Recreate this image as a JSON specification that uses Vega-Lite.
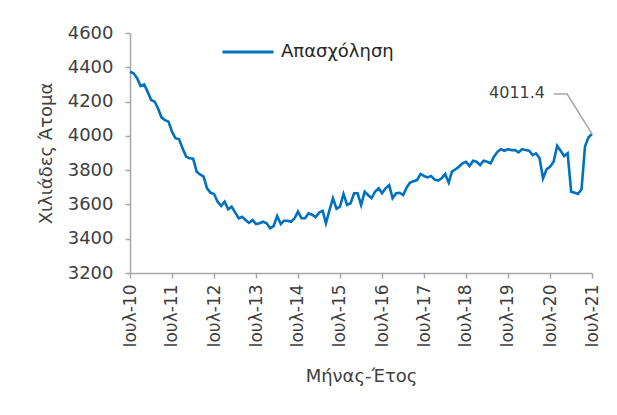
{
  "$schema": "https://vega.github.io/schema/vega-lite/v6.json",
  "width": 462,
  "height": 240,
  "autosize": "none",
  "padding": {"left": 130, "top": 33, "right": 25, "bottom": 142},
  "background": "white",
  "config": {
    "view": {"stroke": null},
    "font": "DejaVu Sans",
    "axis": {
      "grid": false,
      "domainColor": "#a6a6a6",
      "domainWidth": 1.5,
      "tickColor": "#a6a6a6",
      "tickWidth": 1.5,
      "tickSize": 5,
      "labelFont": "DejaVu Sans",
      "labelColor": "#404040",
      "titleFont": "DejaVu Sans",
      "titleColor": "#404040",
      "titleFontWeight": "normal"
    }
  },
  "datasets": {
    "emp": [
      {"date": "2010-07-01", "emp": 4374}, {"date": "2010-08-01", "emp": 4365}, {"date": "2010-09-01", "emp": 4336},
      {"date": "2010-10-01", "emp": 4291}, {"date": "2010-11-01", "emp": 4300}, {"date": "2010-12-01", "emp": 4258},
      {"date": "2011-01-01", "emp": 4209}, {"date": "2011-02-01", "emp": 4199}, {"date": "2011-03-01", "emp": 4161},
      {"date": "2011-04-01", "emp": 4108}, {"date": "2011-05-01", "emp": 4092}, {"date": "2011-06-01", "emp": 4083},
      {"date": "2011-07-01", "emp": 4024}, {"date": "2011-08-01", "emp": 3986}, {"date": "2011-09-01", "emp": 3980},
      {"date": "2011-10-01", "emp": 3927}, {"date": "2011-11-01", "emp": 3879}, {"date": "2011-12-01", "emp": 3869},
      {"date": "2012-01-01", "emp": 3867}, {"date": "2012-02-01", "emp": 3791}, {"date": "2012-03-01", "emp": 3775},
      {"date": "2012-04-01", "emp": 3762}, {"date": "2012-05-01", "emp": 3694}, {"date": "2012-06-01", "emp": 3668},
      {"date": "2012-07-01", "emp": 3661}, {"date": "2012-08-01", "emp": 3616}, {"date": "2012-09-01", "emp": 3591},
      {"date": "2012-10-01", "emp": 3616}, {"date": "2012-11-01", "emp": 3572}, {"date": "2012-12-01", "emp": 3587},
      {"date": "2013-01-01", "emp": 3552}, {"date": "2013-02-01", "emp": 3519}, {"date": "2013-03-01", "emp": 3528},
      {"date": "2013-04-01", "emp": 3509}, {"date": "2013-05-01", "emp": 3493}, {"date": "2013-06-01", "emp": 3509},
      {"date": "2013-07-01", "emp": 3486}, {"date": "2013-08-01", "emp": 3490}, {"date": "2013-09-01", "emp": 3499},
      {"date": "2013-10-01", "emp": 3490}, {"date": "2013-11-01", "emp": 3461}, {"date": "2013-12-01", "emp": 3474},
      {"date": "2014-01-01", "emp": 3532}, {"date": "2014-02-01", "emp": 3486}, {"date": "2014-03-01", "emp": 3505},
      {"date": "2014-04-01", "emp": 3505}, {"date": "2014-05-01", "emp": 3499}, {"date": "2014-06-01", "emp": 3519},
      {"date": "2014-07-01", "emp": 3558}, {"date": "2014-08-01", "emp": 3519}, {"date": "2014-09-01", "emp": 3519},
      {"date": "2014-10-01", "emp": 3548}, {"date": "2014-11-01", "emp": 3540}, {"date": "2014-12-01", "emp": 3525},
      {"date": "2015-01-01", "emp": 3552}, {"date": "2015-02-01", "emp": 3562}, {"date": "2015-03-01", "emp": 3490},
      {"date": "2015-04-01", "emp": 3567}, {"date": "2015-05-01", "emp": 3636}, {"date": "2015-06-01", "emp": 3575},
      {"date": "2015-07-01", "emp": 3587}, {"date": "2015-08-01", "emp": 3661}, {"date": "2015-09-01", "emp": 3597},
      {"date": "2015-10-01", "emp": 3607}, {"date": "2015-11-01", "emp": 3665}, {"date": "2015-12-01", "emp": 3665},
      {"date": "2016-01-01", "emp": 3597}, {"date": "2016-02-01", "emp": 3674}, {"date": "2016-03-01", "emp": 3655},
      {"date": "2016-04-01", "emp": 3636}, {"date": "2016-05-01", "emp": 3674}, {"date": "2016-06-01", "emp": 3694},
      {"date": "2016-07-01", "emp": 3665}, {"date": "2016-08-01", "emp": 3694}, {"date": "2016-09-01", "emp": 3713},
      {"date": "2016-10-01", "emp": 3636}, {"date": "2016-11-01", "emp": 3665}, {"date": "2016-12-01", "emp": 3668},
      {"date": "2017-01-01", "emp": 3655}, {"date": "2017-02-01", "emp": 3700}, {"date": "2017-03-01", "emp": 3727},
      {"date": "2017-04-01", "emp": 3735}, {"date": "2017-05-01", "emp": 3742}, {"date": "2017-06-01", "emp": 3777},
      {"date": "2017-07-01", "emp": 3766}, {"date": "2017-08-01", "emp": 3758}, {"date": "2017-09-01", "emp": 3766},
      {"date": "2017-10-01", "emp": 3745}, {"date": "2017-11-01", "emp": 3739}, {"date": "2017-12-01", "emp": 3752},
      {"date": "2018-01-01", "emp": 3777}, {"date": "2018-02-01", "emp": 3727}, {"date": "2018-03-01", "emp": 3791},
      {"date": "2018-04-01", "emp": 3805}, {"date": "2018-05-01", "emp": 3820}, {"date": "2018-06-01", "emp": 3840},
      {"date": "2018-07-01", "emp": 3849}, {"date": "2018-08-01", "emp": 3824}, {"date": "2018-09-01", "emp": 3855},
      {"date": "2018-10-01", "emp": 3849}, {"date": "2018-11-01", "emp": 3830}, {"date": "2018-12-01", "emp": 3855},
      {"date": "2019-01-01", "emp": 3849}, {"date": "2019-02-01", "emp": 3840}, {"date": "2019-03-01", "emp": 3878},
      {"date": "2019-04-01", "emp": 3907}, {"date": "2019-05-01", "emp": 3922}, {"date": "2019-06-01", "emp": 3913},
      {"date": "2019-07-01", "emp": 3922}, {"date": "2019-08-01", "emp": 3917}, {"date": "2019-09-01", "emp": 3917},
      {"date": "2019-10-01", "emp": 3904}, {"date": "2019-11-01", "emp": 3922}, {"date": "2019-12-01", "emp": 3917},
      {"date": "2020-01-01", "emp": 3913}, {"date": "2020-02-01", "emp": 3888}, {"date": "2020-03-01", "emp": 3898},
      {"date": "2020-04-01", "emp": 3869}, {"date": "2020-05-01", "emp": 3752}, {"date": "2020-06-01", "emp": 3805},
      {"date": "2020-07-01", "emp": 3820}, {"date": "2020-08-01", "emp": 3849}, {"date": "2020-09-01", "emp": 3941},
      {"date": "2020-10-01", "emp": 3913}, {"date": "2020-11-01", "emp": 3882}, {"date": "2020-12-01", "emp": 3898},
      {"date": "2021-01-01", "emp": 3674}, {"date": "2021-02-01", "emp": 3668}, {"date": "2021-03-01", "emp": 3661},
      {"date": "2021-04-01", "emp": 3688}, {"date": "2021-05-01", "emp": 3937}, {"date": "2021-06-01", "emp": 3992},
      {"date": "2021-07-01", "emp": 4011.4}
    ],
    "leader": [
      {"date": "2020-08-04", "emp": 4244},
      {"date": "2020-11-27", "emp": 4244},
      {"date": "2021-07-01", "emp": 4011.4}
    ]
  },
  "encoding": {
    "x": {
      "field": "date",
      "type": "temporal",
      "scale": {
        "type": "utc",
        "domain": [
          {"year": 2010, "month": 7, "date": 1, "utc": true},
          {"year": 2021, "month": 7, "date": 1, "utc": true}
        ],
        "nice": false
      },
      "axis": {
        "title": "Μήνας-Έτος",
        "titleFontSize": 18,
        "titlePadding": 20,
        "labelFontSize": 17,
        "labelAngle": -90,
        "labelPadding": 6,
        "labelFlush": false,
        "labelOverlap": false,
        "values": [
          {"year": 2010, "month": 7, "date": 1, "utc": true},
          {"year": 2011, "month": 7, "date": 1, "utc": true},
          {"year": 2012, "month": 7, "date": 1, "utc": true},
          {"year": 2013, "month": 7, "date": 1, "utc": true},
          {"year": 2014, "month": 7, "date": 1, "utc": true},
          {"year": 2015, "month": 7, "date": 1, "utc": true},
          {"year": 2016, "month": 7, "date": 1, "utc": true},
          {"year": 2017, "month": 7, "date": 1, "utc": true},
          {"year": 2018, "month": 7, "date": 1, "utc": true},
          {"year": 2019, "month": 7, "date": 1, "utc": true},
          {"year": 2020, "month": 7, "date": 1, "utc": true},
          {"year": 2021, "month": 7, "date": 1, "utc": true}
        ],
        "labelExpr": "'Ιουλ-' + utcFormat(datum.value, '%y')"
      }
    },
    "y": {
      "field": "emp",
      "type": "quantitative",
      "scale": {"domain": [3200, 4600], "nice": false, "zero": false},
      "axis": {
        "title": "Χιλιάδες Άτομα",
        "titleFontSize": 18,
        "titlePadding": 12,
        "labelFontSize": 18,
        "labelPadding": 12,
        "format": "d",
        "values": [3200, 3400, 3600, 3800, 4000, 4200, 4400, 4600]
      }
    }
  },
  "layer": [
    {
      "data": {"name": "emp"},
      "mark": {"type": "line", "strokeWidth": 2.6, "interpolate": "linear"},
      "encoding": {
        "color": {
          "datum": "Απασχόληση",
          "type": "nominal",
          "scale": {"range": ["#0070c0"]},
          "legend": {
            "title": null,
            "orient": "none",
            "legendX": 91,
            "legendY": -8,
            "symbolType": "stroke",
            "symbolSize": 2600,
            "symbolStrokeWidth": 3,
            "labelFontSize": 18,
            "labelColor": "#262626",
            "labelFont": "DejaVu Sans",
            "labelOffset": 6
          }
        }
      }
    },
    {
      "data": {"name": "leader"},
      "mark": {"type": "line", "color": "#a6a6a6", "strokeWidth": 1.5},
      "encoding": {}
    },
    {
      "data": {"name": "emp"},
      "transform": [{"filter": "datum.emp === 4011.4"}],
      "mark": {"type": "text", "align": "right", "baseline": "middle", "dx": -47, "dy": -41, "fontSize": 16, "color": "#404040"},
      "encoding": {"text": {"field": "emp", "type": "quantitative", "format": ".1f"}}
    }
  ]
}
